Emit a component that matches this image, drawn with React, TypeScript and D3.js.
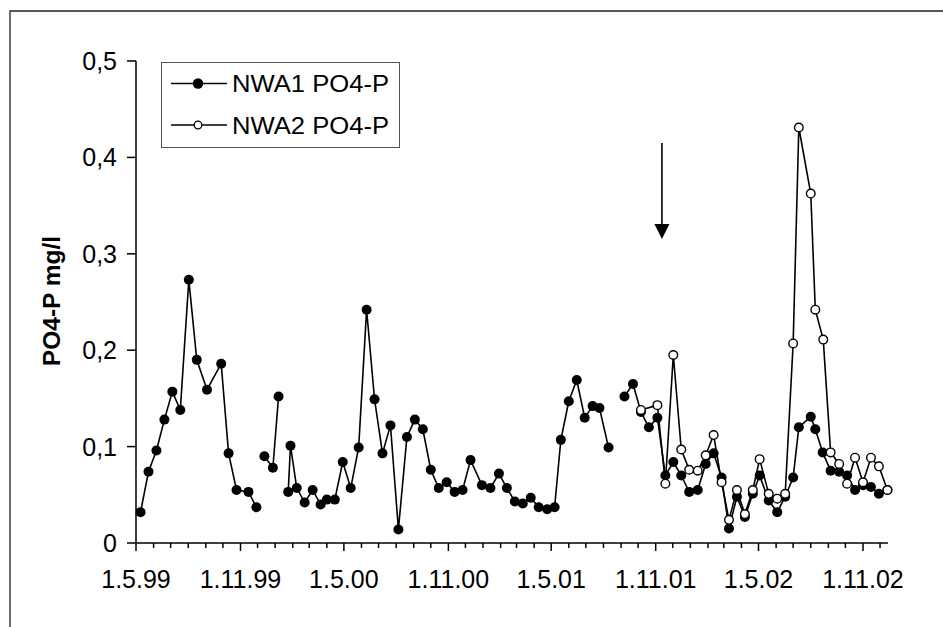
import React from "react";
import * as d3 from "d3";

const W = 943;
const H = 627;

// sampling dates and PO4-P values (mg/l); null = no sample (line break)
const nwa1Dates = [
  "1999-05-09", "1999-05-23", "1999-06-06", "1999-06-20", "1999-07-04", "1999-07-18", "1999-08-02",
  "1999-08-16", "1999-09-03", "1999-09-28", "1999-10-11", "1999-10-25", "1999-11-15", "1999-11-29",
  "1999-12-06",
  "1999-12-13", "1999-12-28", "2000-01-07",
  "2000-01-15",
  "2000-01-24", "2000-01-28", "2000-02-08", "2000-02-22", "2000-03-07", "2000-03-21", "2000-04-01",
  "2000-04-15", "2000-04-29", "2000-05-13", "2000-05-27", "2000-06-10", "2000-06-24", "2000-07-08",
  "2000-07-22", "2000-08-05", "2000-08-20", "2000-09-03", "2000-09-17", "2000-10-01", "2000-10-15",
  "2000-10-29", "2000-11-12", "2000-11-26", "2000-12-10", "2000-12-30", "2001-01-14", "2001-01-29",
  "2001-02-12", "2001-02-26", "2001-03-12", "2001-03-26", "2001-04-09", "2001-04-24", "2001-05-07",
  "2001-05-18", "2001-06-01", "2001-06-15", "2001-06-29", "2001-07-13", "2001-07-25", "2001-08-10",
  "2001-08-24",
  "2001-09-07", "2001-09-22", "2001-10-06", "2001-10-20", "2001-11-04", "2001-11-18", "2001-12-02",
  "2001-12-16", "2001-12-30", "2002-01-14", "2002-01-28", "2002-02-11", "2002-02-25", "2002-03-10",
  "2002-03-24", "2002-04-07", "2002-04-21", "2002-05-03", "2002-05-19", "2002-06-03", "2002-06-17",
  "2002-07-01", "2002-07-11", "2002-08-01", "2002-08-09", "2002-08-22", "2002-09-05", "2002-09-20",
  "2002-10-04", "2002-10-18", "2002-11-01", "2002-11-15", "2002-11-29", "2002-12-14",
];
const nwa1Values = [
  0.032, 0.074, 0.096, 0.128, 0.157, 0.138, 0.273,
  0.19, 0.159, 0.186, 0.093, 0.055, 0.053, 0.037,
  null,
  0.09, 0.078, 0.152,
  null,
  0.053, 0.101, 0.057, 0.042, 0.055, 0.04, 0.045,
  0.045, 0.084, 0.057, 0.099, 0.242, 0.149, 0.093,
  0.122, 0.014, 0.11, 0.128, 0.118, 0.076, 0.057,
  0.063, 0.053, 0.055, 0.086, 0.06, 0.057, 0.072,
  0.057, 0.043, 0.041, 0.047, 0.037, 0.035, 0.037,
  0.107, 0.147, 0.169, 0.13, 0.142, 0.14, 0.099,
  null,
  0.152, 0.165, 0.136, 0.12, 0.13, 0.07, 0.084,
  0.07, 0.053, 0.055, 0.082, 0.093, 0.068, 0.015,
  0.048, 0.027, 0.051, 0.07, 0.044, 0.032, 0.048,
  0.068, 0.12, 0.131, 0.118, 0.094, 0.075, 0.074,
  0.07, 0.055, 0.06, 0.058, 0.051, 0.055,
];

const nwa2Dates = [
  "2001-10-06", "2001-11-04", "2001-11-18", "2001-12-02", "2001-12-16", "2001-12-30", "2002-01-14",
  "2002-01-28", "2002-02-11", "2002-02-25", "2002-03-10", "2002-03-24", "2002-04-07", "2002-04-21",
  "2002-05-03", "2002-05-19", "2002-06-03", "2002-06-17", "2002-07-01", "2002-07-11", "2002-08-01",
  "2002-08-09", "2002-08-23", "2002-09-05", "2002-09-20", "2002-10-04", "2002-10-18", "2002-11-01",
  "2002-11-15", "2002-11-29", "2002-12-14",
];
const nwa2Values = [
  0.138, 0.143, 0.0615, 0.195, 0.097, 0.076, 0.075,
  0.091, 0.112, 0.063, 0.024, 0.055, 0.03, 0.055,
  0.087, 0.051, 0.046, 0.051, 0.207, 0.431, 0.3625,
  0.242, 0.211, 0.094, 0.082, 0.0615, 0.0885, 0.063,
  0.0885, 0.0795, 0.055,
];

const seriesNames = ["NWA1 PO4-P", "NWA2 PO4-P"];
const yTicks = [0, 0.1, 0.2, 0.3, 0.4, 0.5];
const xStart = "1999-05-01";
const xEnd = "2002-12-15";
const arrowDate = "2001-11-12";
const yLabel = "PO4-P mg/l";

const FONT = "'Liberation Sans', Arial, sans-serif";
const parse = d3.timeParse("%Y-%m-%d");

type Pt = { date: Date; v: number | null };

function toPoints(dates: string[], values: (number | null)[]): Pt[] {
  return dates.map((d, i) => ({ date: parse(d) as Date, v: values[i] }));
}

export default function App() {
  const left = 136;
  const right = 888;
  const top = 61;
  const bottom = 543;

  const x = d3
    .scaleTime()
    .domain([parse(xStart) as Date, parse(xEnd) as Date])
    .range([left, right]);
  const y = d3.scaleLinear().domain([0, 0.5]).range([bottom, top]);

  const line = d3
    .line<Pt>()
    .defined((d) => d.v != null)
    .x((d) => x(d.date))
    .y((d) => y(d.v as number));

  const s1 = toPoints(nwa1Dates, nwa1Values);
  const s2 = toPoints(nwa2Dates, nwa2Values);

  const months = d3.timeMonth.range(parse(xStart) as Date, parse(xEnd) as Date);
  const fmtTick = (d: Date) =>
    `${d.getDate()}.${d.getMonth() + 1}.${String(d.getFullYear()).slice(2)}`;
  const isMajor = (d: Date) => d.getMonth() === 4 || d.getMonth() === 10;

  const ax = x(parse(arrowDate) as Date);

  return (
    <svg
      width={W}
      height={H}
      style={{ position: "absolute", left: 0, top: 0, background: "#fff" }}
      fontFamily={FONT}
    >
      {/* frame */}
      <path d={`M10,${H} V11 H${W}`} fill="none" stroke="#222" strokeWidth={1.3} />

      {/* y axis */}
      <line x1={left} x2={left} y1={top} y2={bottom} stroke="#000" strokeWidth={1.5} />
      {yTicks.map((t) => (
        <g key={t}>
          <line x1={left - 9} x2={left} y1={y(t)} y2={y(t)} stroke="#000" strokeWidth={1.5} />
          <text x={117} y={y(t) + 9} fontSize={25} textAnchor="end">
            {t === 0 ? "0" : t.toFixed(1).replace(".", ",")}
          </text>
        </g>
      ))}
      <text
        transform={`translate(60,${(top + bottom) / 2 - 1}) rotate(-90)`}
        fontSize={24.5}
        fontWeight="bold"
        textAnchor="middle"
      >
        {yLabel}
      </text>

      {/* x axis */}
      <line x1={left} x2={right} y1={bottom} y2={bottom} stroke="#000" strokeWidth={1.5} />
      {months.map((m) => (
        <line
          key={+m}
          x1={x(m)}
          x2={x(m)}
          y1={bottom}
          y2={bottom + (isMajor(m) ? 8 : 5)}
          stroke="#000"
          strokeWidth={1.5}
        />
      ))}
      {months.filter(isMajor).map((m) => (
        <text key={+m} x={x(m)} y={588} fontSize={25} textAnchor="middle">
          {fmtTick(m)}
        </text>
      ))}

      {/* series 1 */}
      <path d={line(s1) || ""} fill="none" stroke="#000" strokeWidth={1.6} />
      {s1
        .filter((d) => d.v != null)
        .map((d, i) => (
          <circle key={i} cx={x(d.date)} cy={y(d.v as number)} r={5} fill="#000" />
        ))}

      {/* series 2 */}
      <path d={line(s2) || ""} fill="none" stroke="#000" strokeWidth={1.6} />
      {s2.map((d, i) => (
        <circle
          key={i}
          cx={x(d.date)}
          cy={y(d.v as number)}
          r={4.3}
          fill="#fff"
          stroke="#000"
          strokeWidth={1.4}
        />
      ))}

      {/* arrow */}
      <line x1={ax} x2={ax} y1={143} y2={226} stroke="#000" strokeWidth={1.6} />
      <path d={`M${ax - 7.5},224 L${ax + 7.5},224 L${ax},239 Z`} fill="#000" />

      {/* legend */}
      <rect x={161.5} y={62.5} width={238} height={85} fill="#fff" stroke="#555" strokeWidth={1} />
      {seriesNames.map((name, i) => {
        const ly = 83.5 + i * 41.5;
        return (
          <g key={name}>
            <line x1={171} x2={227} y1={ly} y2={ly} stroke="#000" strokeWidth={1.5} />
            {i === 0 ? (
              <circle cx={198} cy={ly} r={5.2} fill="#000" />
            ) : (
              <circle cx={198} cy={ly} r={3.8} fill="#fff" stroke="#000" strokeWidth={1.3} />
            )}
            <text
              x={232}
              y={ly + 8.5}
              fontSize={24.5}
              textLength={157}
              lengthAdjust="spacingAndGlyphs"
            >
              {name}
            </text>
          </g>
        );
      })}
    </svg>
  );
}
